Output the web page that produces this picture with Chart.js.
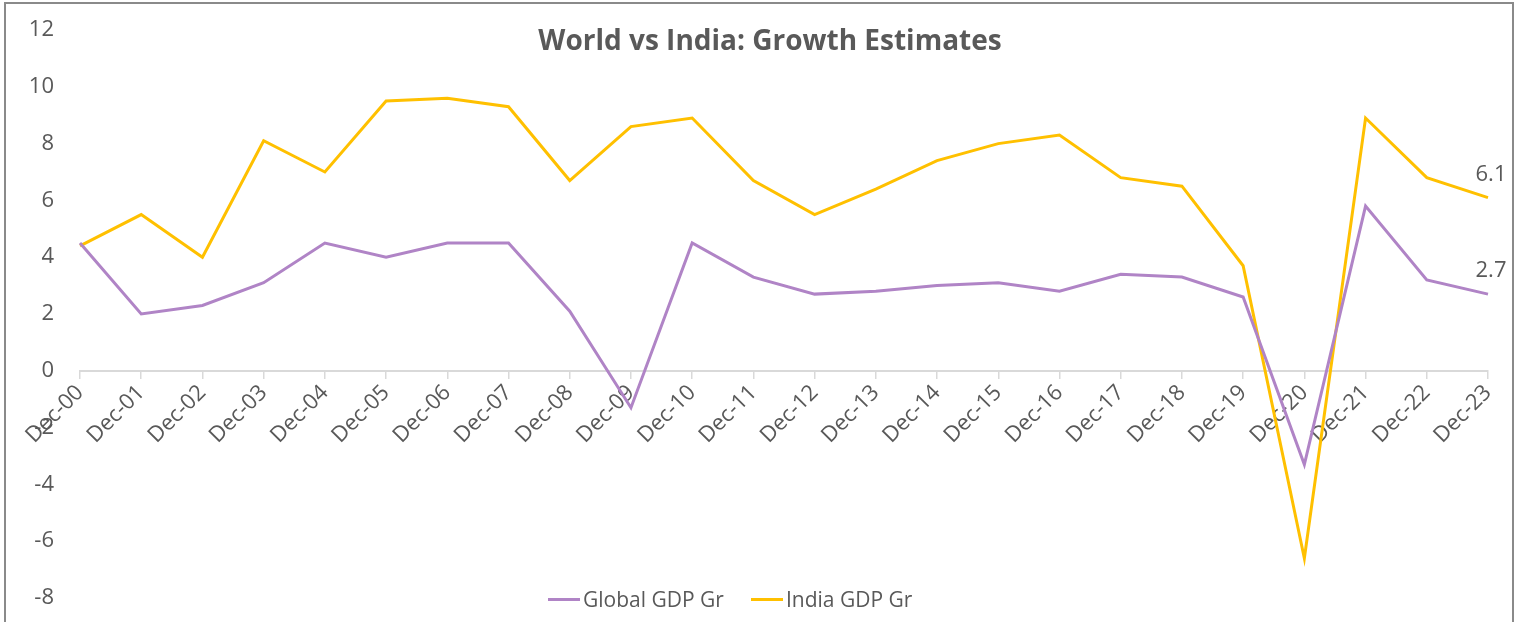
<!DOCTYPE html>
<html>
<head>
<meta charset="utf-8">
<script src="https://cdn.jsdelivr.net/npm/chart.js@4.4.1/dist/chart.umd.min.js"></script>
<style>
    body { margin: 0; background: #fff; overflow: hidden; font-family: "Open Sans", sans-serif; }
    #Wrap { position: relative; width: 1517px; height: 622px; }
    #GrowthChart { display: block; }
    #Frame { position: absolute; left: 4px; top: 2px; width: 1506px; height: 700px; border: 2px solid #8a8a8a; pointer-events: none; }
    #Title { position: absolute; top: 20px; left: 0; width: 1540px; text-align: center; font-weight: 700; font-size: 28px; color: #595959; }
    #Legend { position: absolute; top: 585px; left: 548px; display: flex; font-size: 21px; color: #595959; }
    .item { display: flex; align-items: center; margin-right: 27px; }
    .mark { display: inline-block; width: 32px; height: 3px; margin-right: 3px; }
</style>
</head>
<body>
<div id="Wrap">
    <canvas id="GrowthChart" width="1517" height="622"></canvas>
    <div id="Title">World vs India: Growth Estimates</div>
    <div id="Legend">
        <span class="item"><span class="mark" style="background:#b084c6"></span>Global GDP Gr</span>
        <span class="item"><span class="mark" style="background:#ffc000"></span>India GDP Gr</span>
    </div>
    <div id="Frame"></div>
</div>
<script>
const years = ["Dec-00","Dec-01","Dec-02","Dec-03","Dec-04","Dec-05","Dec-06","Dec-07","Dec-08","Dec-09","Dec-10","Dec-11",
               "Dec-12","Dec-13","Dec-14","Dec-15","Dec-16","Dec-17","Dec-18","Dec-19","Dec-20","Dec-21","Dec-22","Dec-23"];
const globalGdp = [4.5, 2.0, 2.3, 3.1, 4.5, 4.0, 4.5, 4.5, 2.1, -1.3, 4.5, 3.3, 2.7, 2.8, 3.0, 3.1, 2.8, 3.4, 3.3, 2.6, -3.3, 5.8, 3.2, 2.7];
const indiaGdp = [4.4, 5.5, 4.0, 8.1, 7.0, 9.5, 9.6, 9.3, 6.7, 8.6, 8.9, 6.7, 5.5, 6.4, 7.4, 8.0, 8.3, 6.8, 6.5, 3.7, -6.6, 8.9, 6.8, 6.1];
const yTicks = [12, 10, 8, 6, 4, 2, 0, -2, -4, -6, -8];

const textColor = "#595959";

// writes the latest value above the last point of each line
const lastValueLabels = {
    id: "lastValueLabels",
    afterDatasetsDraw(chart){
        const ctx = chart.ctx;
        ctx.save();
        ctx.font = "22px 'Open Sans'";
        ctx.fillStyle = textColor;
        ctx.textAlign = "center";
        ctx.textBaseline = "bottom";
        chart.data.datasets.forEach((ds, i) => {
            const pts = chart.getDatasetMeta(i).data;
            const last = pts[pts.length - 1];
            ctx.fillText(ds.data[ds.data.length - 1].toFixed(1), last.x + 3, last.y - 12);
        });
        ctx.restore();
    }
};

new Chart(document.getElementById("GrowthChart").getContext("2d"), {
    type: "line",
    data: {
        labels: years,
        datasets: [{
            label: "Global GDP Gr",
            data: globalGdp,
            borderColor: "#b084c6",
            borderWidth: 3,
            pointRadius: 0,
            tension: 0
        }, {
            label: "India GDP Gr",
            data: indiaGdp,
            borderColor: "#ffc000",
            borderWidth: 3,
            pointRadius: 0,
            tension: 0
        }]
    },
    options: {
        responsive: false,
        animation: false,
        layout: { padding: { top: 30, bottom: 24, right: 29, left: 0 } },
        plugins: {
            legend: { display: false },
            title: { display: false },
            tooltip: { enabled: false }
        },
        scales: {
            x: {
                position: { y: 0 },
                offset: false,
                grid: { drawOnChartArea: false, color: "#d9d9d9", tickLength: 7, lineWidth: 1.5 },
                border: { color: "#d9d9d9", width: 2 },
                ticks: {
                    color: textColor,
                    font: { family: "Open Sans", size: 22 },
                    minRotation: 45,
                    maxRotation: 45,
                    autoSkip: false,
                    padding: 2
                }
            },
            y: {
                min: -8,
                max: 12,
                afterFit(scale){ scale.width = 80; },
                afterBuildTicks(scale){ scale.ticks = yTicks.map(v => ({ value: v })); },
                // hidden tick marks keep the labels away from the plot without adding top/bottom padding
                grid: { display: false, drawTicks: true, tickLength: 26 },
                border: { display: false },
                ticks: {
                    color: textColor,
                    font: { family: "Open Sans", size: 22 },
                    padding: 0
                }
            }
        }
    },
    plugins: [lastValueLabels]
});
</script>
</body>
</html>
